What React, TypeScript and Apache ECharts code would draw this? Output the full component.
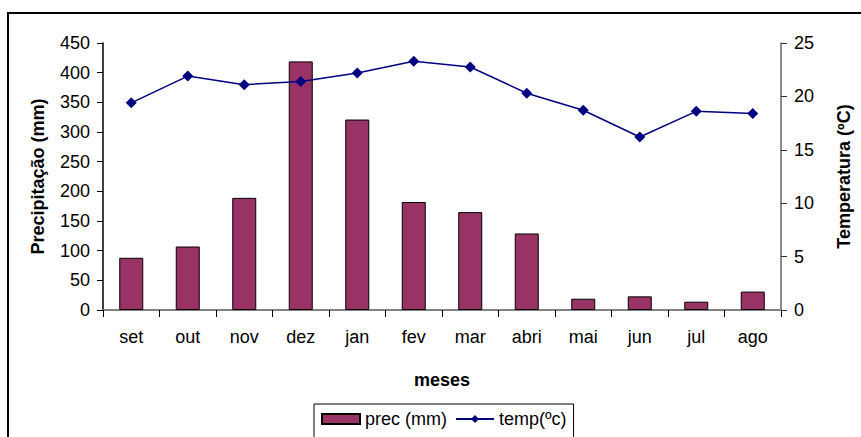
import React, { useEffect, useRef } from "react";
import * as echarts from "echarts";

const months = ["set", "out", "nov", "dez", "jan", "fev", "mar", "abri", "mai", "jun", "jul", "ago"];
const precValues = [88, 107, 189, 419, 321, 182, 165, 129, 19, 23, 14, 31];
const tempValues = [19.4, 21.9, 21.1, 21.4, 22.2, 23.3, 22.75, 20.3, 18.7, 16.2, 18.6, 18.4];
const precName = "prec (mm)";
const tempName = "temp(ºc)";

const FONT = "'Liberation Sans', Arial, sans-serif";

export default function App() {
  const ref = useRef<HTMLDivElement>(null);
  useEffect(() => {
    document.body.style.margin = "0";
    if (!ref.current) return;
    const chart = echarts.init(ref.current, null, { renderer: "svg" });
    const labelStyle = { color: "#000", fontFamily: FONT, fontSize: 18 };
    chart.setOption({
      animation: false,
      textStyle: { fontFamily: FONT },
      graphic: [
        {
          type: "rect",
          shape: { x: 8, y: 13, width: 900, height: 500 },
          style: { fill: "none", stroke: "#000", lineWidth: 2 },
          silent: true,
        },
      ],
      grid: { left: 103, right: 71, top: 43, bottom: 127 },
      legend: {
        left: 314,
        top: 404,
        padding: [6, 7, 20, 7],
        itemGap: 8,
        itemWidth: 38,
        itemHeight: 10,
        borderColor: "#000",
        borderWidth: 1,
        textStyle: { ...labelStyle },
        data: [
          { name: precName, icon: "rect" },
          { name: tempName },
        ],
      },
      xAxis: [
        {
          type: "category",
          data: months,
          name: "meses",
          nameLocation: "middle",
          nameGap: 61,
          nameTextStyle: { ...labelStyle, fontWeight: "bold" },
          axisLine: { lineStyle: { color: "#000", width: 1.5 } },
          axisTick: { show: true, length: 7, lineStyle: { color: "#000" } },
          axisLabel: { ...labelStyle, margin: 18 },
          splitLine: { show: false },
        },
        {
          type: "category",
          data: months,
          position: "top",
          axisLine: { show: true, lineStyle: { color: "#999", width: 1.5 } },
          axisTick: { show: false },
          axisLabel: { show: false },
        },
      ],
      yAxis: [
        {
          type: "value",
          min: 0,
          max: 450,
          interval: 50,
          name: "Precipitação (mm)",
          nameLocation: "middle",
          nameGap: 56,
          nameTextStyle: { ...labelStyle, fontWeight: "bold" },
          axisLine: { show: true, lineStyle: { color: "#000", width: 1.5 } },
          axisTick: { show: true, length: 6, lineStyle: { color: "#000" } },
          axisLabel: { ...labelStyle, margin: 13 },
          splitLine: { show: false },
        },
        {
          type: "value",
          min: 0,
          max: 25,
          interval: 5,
          position: "right",
          name: "Temperatura (ºC)",
          nameLocation: "middle",
          nameGap: 54,
          nameRotate: 90,
          nameTextStyle: { ...labelStyle, fontWeight: "bold" },
          axisLine: { show: true, lineStyle: { color: "#666", width: 1.5 } },
          axisTick: { show: true, length: 6, lineStyle: { color: "#333" } },
          axisLabel: { ...labelStyle, margin: 13 },
          splitLine: { show: false },
        },
      ],
      series: [
        {
          name: precName,
          type: "bar",
          data: precValues,
          barWidth: 24,
          itemStyle: { color: "#993366", borderColor: "#000", borderWidth: 1 },
        },
        {
          name: tempName,
          type: "line",
          yAxisIndex: 1,
          data: tempValues,
          symbol: "diamond",
          symbolSize: 11,
          lineStyle: { color: "#000080", width: 1.5 },
          itemStyle: { color: "#000080" },
        },
      ],
    });
    return () => chart.dispose();
  }, []);
  return <div ref={ref} style={{ width: 861, height: 437 }} />;
}
